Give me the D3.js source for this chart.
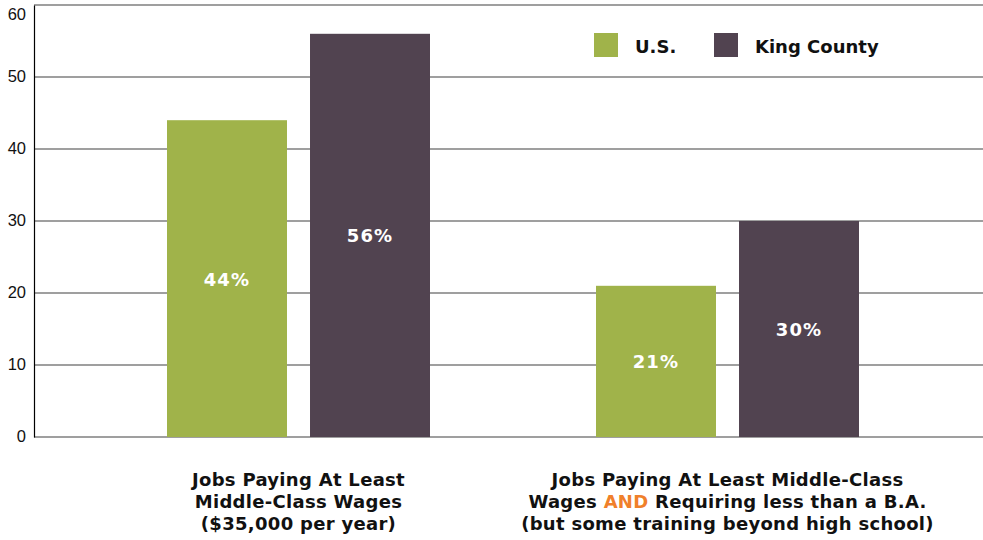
<!DOCTYPE html>
<html>
<head>
<meta charset="utf-8">
<script src="https://cdn.jsdelivr.net/npm/d3@7"></script>
<style>
  body { margin: 0; background: #fff; }
  svg { display: block; }
</style>
</head>
<body>
<div id="chart"></div>
<script>
// data
const groups = ["g1", "g2"]
const series = ["U.S.", "King County"]
const usValues = [44, 21]
const kingValues = [56, 30]
const yTicks = [0, 10, 20, 30, 40, 50, 60]
const groupLabels = [
  [["Jobs Paying At Least"], ["Middle-Class Wages"], ["($35,000 per year)"]],
  [["Jobs Paying At Least Middle-Class"], ["Wages ", "AND", " Requiring less than a B.A."], ["(but some training beyond high school)"]]
]
const colors = ["#a0b34a", "#514350"]

const width = 983
const height = 540

const svg = d3.select("#chart")
  .append("svg")
  .attr("width", width)
  .attr("height", height)

// y scale
const y = d3.scaleLinear()
  .domain([0, 60])
  .range([437, 5])

// x scales, outer for the two groups, inner for the series
const x0 = d3.scaleBand()
  .domain(groups)
  .range([84, 942])

const x1 = d3.scaleBand()
  .domain(series)
  .range([83, 346])
  .paddingInner(0.161)

const color = d3.scaleOrdinal(series, colors)

// gridlines
svg.append("g")
  .selectAll("line")
  .data(yTicks)
  .join("line")
  .attr("x1", 34)
  .attr("x2", width)
  .attr("y1", d => y(d))
  .attr("y2", d => y(d))
  .attr("stroke", "#7f7f7f")
  .attr("stroke-width", 1.5)

// y axis
const yAxis = svg.append("g")
  .attr("transform", "translate(34,0)")
  .call(d3.axisLeft(y).tickValues(yTicks).tickSize(0).tickPadding(8))
yAxis.attr("font-size", null)
yAxis.select(".domain").attr("stroke", "#000").attr("stroke-width", 1.2)
yAxis.selectAll("text")
  .style("font-family", "Liberation Sans, Arial, sans-serif")
  .style("font-size", "16.5px")
  .attr("fill", "#111")
  .attr("dy", d => d === 60 ? "0.85em" : "0.3em")

// bars
const rows = groups.map((g, i) => ({ group: g, values: [usValues[i], kingValues[i]] }))

const groupG = svg.append("g")
  .selectAll("g")
  .data(rows)
  .join("g")
  .attr("transform", d => `translate(${x0(d.group)},0)`)

const cells = groupG.selectAll("g")
  .data(d => d.values.map((v, j) => ({ key: series[j], value: v })))
  .join("g")

cells.append("rect")
  .attr("x", d => x1(d.key))
  .attr("y", d => y(d.value))
  .attr("width", x1.bandwidth())
  .attr("height", d => y(0) - y(d.value))
  .attr("fill", d => color(d.key))

cells.append("text")
  .attr("x", d => x1(d.key) + x1.bandwidth() / 2)
  .attr("y", d => (y(d.value) + y(0)) / 2 + 7)
  .attr("text-anchor", "middle")
  .attr("font-family", "DejaVu Sans, Verdana, sans-serif")
  .attr("font-weight", "bold")
  .attr("font-size", 18)
  .attr("letter-spacing", 1.2)
  .attr("fill", "#fff")
  .text(d => d.value + "%")

// group labels under the axis
groups.forEach((g, i) => {
  const cx = x0(g) + x0.bandwidth() / 2
  const t = svg.append("text")
    .attr("text-anchor", "middle")
    .attr("font-family", "DejaVu Sans, Verdana, sans-serif")
    .attr("font-weight", "bold")
    .attr("font-size", 18)
    .attr("letter-spacing", 0.3)
    .attr("fill", "#111")
  groupLabels[i].forEach((parts, k) => {
    const line = t.append("tspan")
      .attr("x", cx)
      .attr("y", 486 + k * 22)
    parts.forEach(p => {
      line.append("tspan")
        .attr("fill", p === "AND" ? "#f0802a" : "#111")
        .text(p)
    })
  })
})

// legend
const legendX = [594, 714]
const legend = svg.append("g")
  .selectAll("g")
  .data(series)
  .join("g")
  .attr("transform", (d, i) => `translate(${legendX[i]},33)`)

legend.append("rect")
  .attr("width", 24)
  .attr("height", 24)
  .attr("fill", d => color(d))

legend.append("text")
  .attr("x", 41)
  .attr("y", 20)
  .attr("font-family", "DejaVu Sans, Verdana, sans-serif")
  .attr("font-weight", "bold")
  .attr("font-size", 18)
  .attr("fill", "#111")
  .text(d => d)
</script>
</body>
</html>
